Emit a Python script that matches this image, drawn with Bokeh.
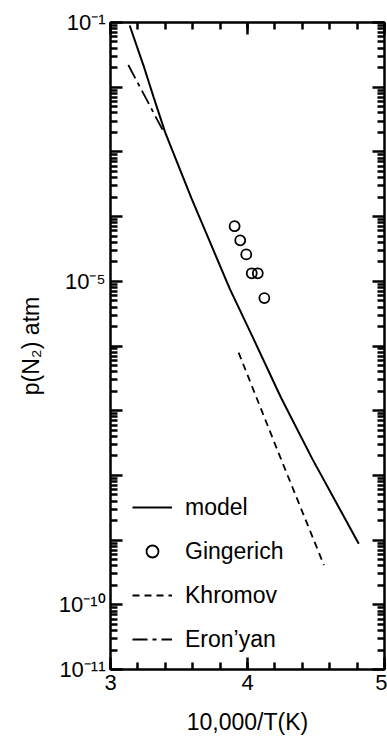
import numpy as np
from bokeh.plotting import figure
from bokeh.models import (LogAxis, LinearAxis, FixedTicker, CustomJSTickFormatter,
                          Legend, LegendItem, Range1d)
from bokeh.embed import file_html
from bokeh.resources import INLINE

# ---- data (x = 10,000/T(K), y = p(N2) atm) ----
model_x = [3.140, 3.241, 3.314, 3.399, 3.495, 3.592, 3.701, 3.870, 4.051, 4.244, 4.473, 4.812]
model_y = [9.0e-2, 2.16e-2, 7.1e-3, 2.0e-3, 6.2e-4, 1.9e-4, 5.4e-5, 7.7e-6, 1.2e-6,
           1.6e-7, 1.8e-8, 8.8e-10]

gingerich_x = [3.906, 3.947, 3.991, 4.031, 4.075, 4.123]
gingerich_y = [7.1e-5, 4.3e-5, 2.6e-5, 1.33e-5, 1.33e-5, 5.5e-6]

khromov_x = [3.935, 4.244, 4.558]
khromov_y = [7.9e-7, 1.8e-8, 4.1e-10]

eronyan_x = [3.13, 3.38]
eronyan_y = [2.2e-2, 2.2e-3]

series_names = ["model", "Gingerich", "Khromov", "Eron\u2019yan"]

x_major_ticks = [3, 4, 5]
x_minor_step = 0.2
y_decade_exponents = list(range(-11, 0))
y_label_exponents = [-1, -5, -10, -11]
y_tick_labels = ["10\u207b\u00b9", "10\u207b\u2075", "10\u207b\u00b9\u2070", "10\u207b\u00b9\u00b9"]

x_title = "10,000/T(K)"
y_title = "p(N\u2082) atm"

FONT = "Liberation Sans"

# tick positions
x_minor = [float(v) for v in np.round(np.arange(x_major_ticks[0], x_major_ticks[-1] + 1e-9, x_minor_step), 6)]
y_major = [10.0 ** e for e in y_decade_exponents]
y_minor = [m * 10.0 ** e for e in y_decade_exponents[:-1] for m in range(2, 10)]

p = figure(width=387, height=742, x_range=Range1d(3, 5), y_range=Range1d(1e-11, 1e-1),
           y_axis_type="log", output_backend="svg", toolbar_location=None,
           min_border_left=110, min_border_right=3, min_border_top=22, min_border_bottom=73)
p.grid.visible = False
p.outline_line_color = "black"
p.outline_line_width = 2
p.background_fill_color = "white"
p.border_fill_color = "white"

r_model = p.line(model_x, model_y, line_color="black", line_width=2)
r_ging = p.scatter(gingerich_x, gingerich_y, marker="circle", size=10, line_color="black",
                   line_width=1.8, fill_alpha=0)
r_khr = p.line(khromov_x, khromov_y, line_color="black", line_width=1.8, line_dash="7 5")
r_ero = p.line(eronyan_x, eronyan_y, line_color="black", line_width=1.8, line_dash="15 5 4 5")

ylab_fmt = CustomJSTickFormatter(args=dict(exps=y_label_exponents, labels=y_tick_labels), code="""
const e = Math.round(Math.log10(tick));
const i = exps.indexOf(e);
return i >= 0 ? labels[i] : "";
""")

def blank():
    return CustomJSTickFormatter(code="return '';")

def style(ax, labels=True):
    ax.axis_line_color = "black"
    ax.axis_line_width = 2
    ax.major_tick_line_color = "black"
    ax.minor_tick_line_color = "black"
    ax.major_tick_line_width = 2.5
    ax.minor_tick_line_width = 2.5
    ax.major_tick_in = 12
    ax.major_tick_out = 0
    ax.minor_tick_in = 7
    ax.minor_tick_out = 0
    ax.major_label_text_font = FONT
    ax.major_label_text_color = "black"
    ax.axis_label_text_font = FONT
    ax.axis_label_text_font_style = "normal"
    ax.axis_label_text_color = "black"
    if labels:
        ax.major_label_text_font_size = "22px"
        ax.axis_label_text_font_size = "23px"
    else:
        ax.major_label_text_font_size = "1px"
        ax.major_label_standoff = 0

xa = p.xaxis[0]
xa.ticker = FixedTicker(ticks=x_major_ticks, minor_ticks=x_minor)
style(xa)
xa.axis_label = x_title
xa.major_label_standoff = 5
xa.axis_label_standoff = 16

ya = p.yaxis[0]
ya.ticker = FixedTicker(ticks=y_major, minor_ticks=y_minor)
ya.formatter = ylab_fmt
style(ya)
ya.axis_label = y_title
ya.major_label_standoff = 5
ya.axis_label_standoff = 12

top = LinearAxis(ticker=FixedTicker(ticks=x_major_ticks, minor_ticks=x_minor), formatter=blank())
style(top, labels=False)
p.add_layout(top, "above")

right = LogAxis(ticker=FixedTicker(ticks=y_major, minor_ticks=y_minor), formatter=blank())
style(right, labels=False)
p.add_layout(right, "right")

legend = Legend(items=[
    LegendItem(label=series_names[0], renderers=[r_model]),
    LegendItem(label=series_names[1], renderers=[r_ging]),
    LegendItem(label=series_names[2], renderers=[r_khr]),
    LegendItem(label=series_names[3], renderers=[r_ero]),
], location=(22, 15))
legend.border_line_alpha = 0
legend.background_fill_alpha = 0
legend.label_text_font = FONT
legend.label_text_font_size = "23px"
legend.label_text_color = "black"
legend.glyph_width = 40
legend.glyph_height = 30
legend.label_height = 30
legend.spacing = 14
legend.padding = 0
legend.margin = 0
legend.label_standoff = 13
p.add_layout(legend)

open("out.html", "w").write(file_html(p, INLINE))
